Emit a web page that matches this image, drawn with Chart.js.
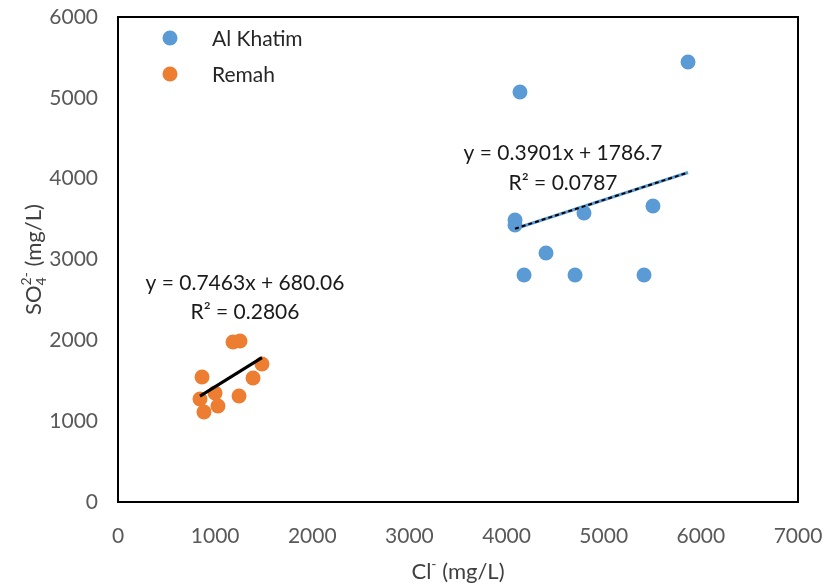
<!DOCTYPE html>
<html>
<head>
<meta charset="utf-8">
<script src="https://cdn.jsdelivr.net/npm/chart.js@4/dist/chart.umd.min.js"></script>
<style>
  html, body { margin: 0; padding: 0; background: #fff; }
  #wrap { width: 823px; height: 587px; }
</style>
</head>
<body>
<div id="wrap"><canvas id="chart" width="823" height="587"></canvas></div>
<script>
// Data
const seriesNames = ['Al Khatim', 'Remah'];
const khatimCl  = [4138, 5868, 4087, 4087, 4797, 5507, 4406, 4180, 4705, 5415];
const khatimSO4 = [5072, 5444, 3489, 3427, 3575, 3662, 3081, 2808, 2808, 2808];
const remahCl   = [865, 844, 885, 999, 1029, 1184, 1256, 1246, 1390, 1482];
const remahSO4  = [1546, 1274, 1113, 1349, 1188, 1979, 1992, 1311, 1534, 1707];
const xTicks = [0, 1000, 2000, 3000, 4000, 5000, 6000, 7000];
const yTicks = [0, 1000, 2000, 3000, 4000, 5000, 6000];
// trendline fits shown on the chart
const khatimFit = { slope: 0.3901, icpt: 1786.7, eq: 'y = 0.3901x + 1786.7', r2: 'R² = 0.0787' };
const remahFit  = { slope: 0.7463, icpt: 680.06, eq: 'y = 0.7463x + 680.06', r2: 'R² = 0.2806' };

const BLUE = '#5b9bd5';
const ORANGE = '#ed7d31';
const FONT = 'Lato, "Open Sans", sans-serif';

function pts(xs, ys) { return xs.map((x, i) => ({ x: x, y: ys[i] })); }
function fitLine(xs, fit) {
  const lo = Math.min(...xs), hi = Math.max(...xs);
  return [{ x: lo, y: fit.slope * lo + fit.icpt }, { x: hi, y: fit.slope * hi + fit.icpt }];
}

// frame, legend, axis titles, equation labels
const decor = {
  id: 'decor',
  afterDraw(chart) {
    const ctx = chart.ctx, a = chart.chartArea;
    const sx = chart.scales.x, sy = chart.scales.y;
    ctx.save();
    ctx.strokeStyle = '#000';
    ctx.lineWidth = 2;
    ctx.strokeRect(a.left, a.top, a.right - a.left, a.bottom - a.top);

    // legend
    const rows = [[seriesNames[0], BLUE, 38], [seriesNames[1], ORANGE, 74]];
    ctx.font = '21px ' + FONT;
    ctx.textBaseline = 'middle';
    ctx.textAlign = 'left';
    rows.forEach(r => {
      ctx.fillStyle = r[1];
      ctx.beginPath(); ctx.arc(170, r[2], 7.5, 0, Math.PI * 2); ctx.fill();
      ctx.fillStyle = '#262626';
      ctx.fillText(r[0], 212, r[2] + 1);
    });

    // equation labels
    ctx.fillStyle = '#1a1a1a';
    ctx.textAlign = 'center';
    ctx.font = '21px ' + FONT;
    const labs = [[khatimFit, 4581, 4318, 3947], [remahFit, 1307, 2709, 2351]];
    labs.forEach(l => {
      const cx = sx.getPixelForValue(l[1]);
      ctx.fillText(l[0].eq, cx, sy.getPixelForValue(l[2]));
      ctx.fillText(l[0].r2, cx, sy.getPixelForValue(l[3]));
    });

    // x title: Cl- (mg/L)
    ctx.fillStyle = '#404040';
    const xt = [['Cl', 22, 0], ['-', 14, -8], [' (mg/L)', 22, 0]];
    drawRich(ctx, xt, (a.left + a.right) / 2, 572);

    // y title: SO4 2- (mg/L), rotated
    ctx.save();
    ctx.translate(34, (a.top + a.bottom) / 2);
    ctx.rotate(-Math.PI / 2);
    const yt = [['SO', 22, 0], ['4', 14, 7, true], ['2-', 14, -8], [' (mg/L)', 22, 0]];
    drawRich(ctx, yt, 0, 0);
    ctx.restore();
    ctx.restore();
  }
};

// draws runs of text with size and baseline shifts, centred on cx
function drawRich(ctx, parts, cx, cy) {
  ctx.textAlign = 'left';
  ctx.textBaseline = 'middle';
  const widths = parts.map(p => {
    ctx.font = p[1] + 'px ' + FONT;
    return ctx.measureText(p[0]).width;
  });
  // subscript and following superscript share a column
  let total = widths[0];
  for (let i = 1; i < parts.length; i++) {
    if (parts[i - 1][3]) total += Math.max(0, widths[i] - widths[i - 1]);
    else total += widths[i];
  }
  let x = cx - total / 2;
  for (let i = 0; i < parts.length; i++) {
    const p = parts[i];
    ctx.font = p[1] + 'px ' + FONT;
    ctx.fillText(p[0], x, cy + p[2]);
    if (!p[3]) x += widths[i];
  }
}

new Chart(document.getElementById('chart'), {
  type: 'scatter',
  data: {
    datasets: [
      { label: seriesNames[0], data: pts(khatimCl, khatimSO4), backgroundColor: BLUE, borderColor: BLUE,
        pointRadius: 7.5, pointHoverRadius: 7.5, borderWidth: 0, order: 3 },
      { label: seriesNames[1], data: pts(remahCl, remahSO4), backgroundColor: ORANGE, borderColor: ORANGE,
        pointRadius: 7.5, pointHoverRadius: 7.5, borderWidth: 0, order: 3 },
      { label: 'Al Khatim trend', data: fitLine(khatimCl, khatimFit), showLine: true, borderColor: BLUE,
        borderWidth: 3, pointRadius: 0, order: 2 },
      { label: 'Al Khatim trend dash', data: fitLine(khatimCl, khatimFit), showLine: true, borderColor: '#000',
        borderWidth: 2, borderDash: [4, 3], pointRadius: 0, order: 1 },
      { label: 'Remah trend', data: fitLine(remahCl, remahFit), showLine: true, borderColor: '#000',
        borderWidth: 3, pointRadius: 0, order: 1 }
    ]
  },
  options: {
    responsive: false,
    animation: false,
    layout: { padding: { left: 0, right: 25, top: 17, bottom: 0 } },
    plugins: { legend: { display: false }, tooltip: { enabled: false } },
    scales: {
      x: {
        type: 'linear', min: 0, max: 7000,
        afterBuildTicks: s => { s.ticks = xTicks.map(v => ({ value: v })); },
        afterFit: s => { s.height = 85; s.paddingLeft = 0; s.paddingRight = 0; },
        grid: { display: false, drawTicks: false },
        border: { display: false },
        ticks: { color: '#595959', font: { family: FONT, size: 21 }, padding: 22, maxRotation: 0,
          callback: v => String(v) }
      },
      y: {
        type: 'linear', min: 0, max: 6000,
        afterBuildTicks: s => { s.ticks = yTicks.map(v => ({ value: v })); },
        afterFit: s => { s.width = 118; s.paddingTop = 0; s.paddingBottom = 0; },
        grid: { display: false, drawTicks: false },
        border: { display: false },
        ticks: { color: '#595959', font: { family: FONT, size: 21 }, padding: 20,
          callback: v => String(v) }
      }
    }
  },
  plugins: [decor]
});
</script>
</body>
</html>
